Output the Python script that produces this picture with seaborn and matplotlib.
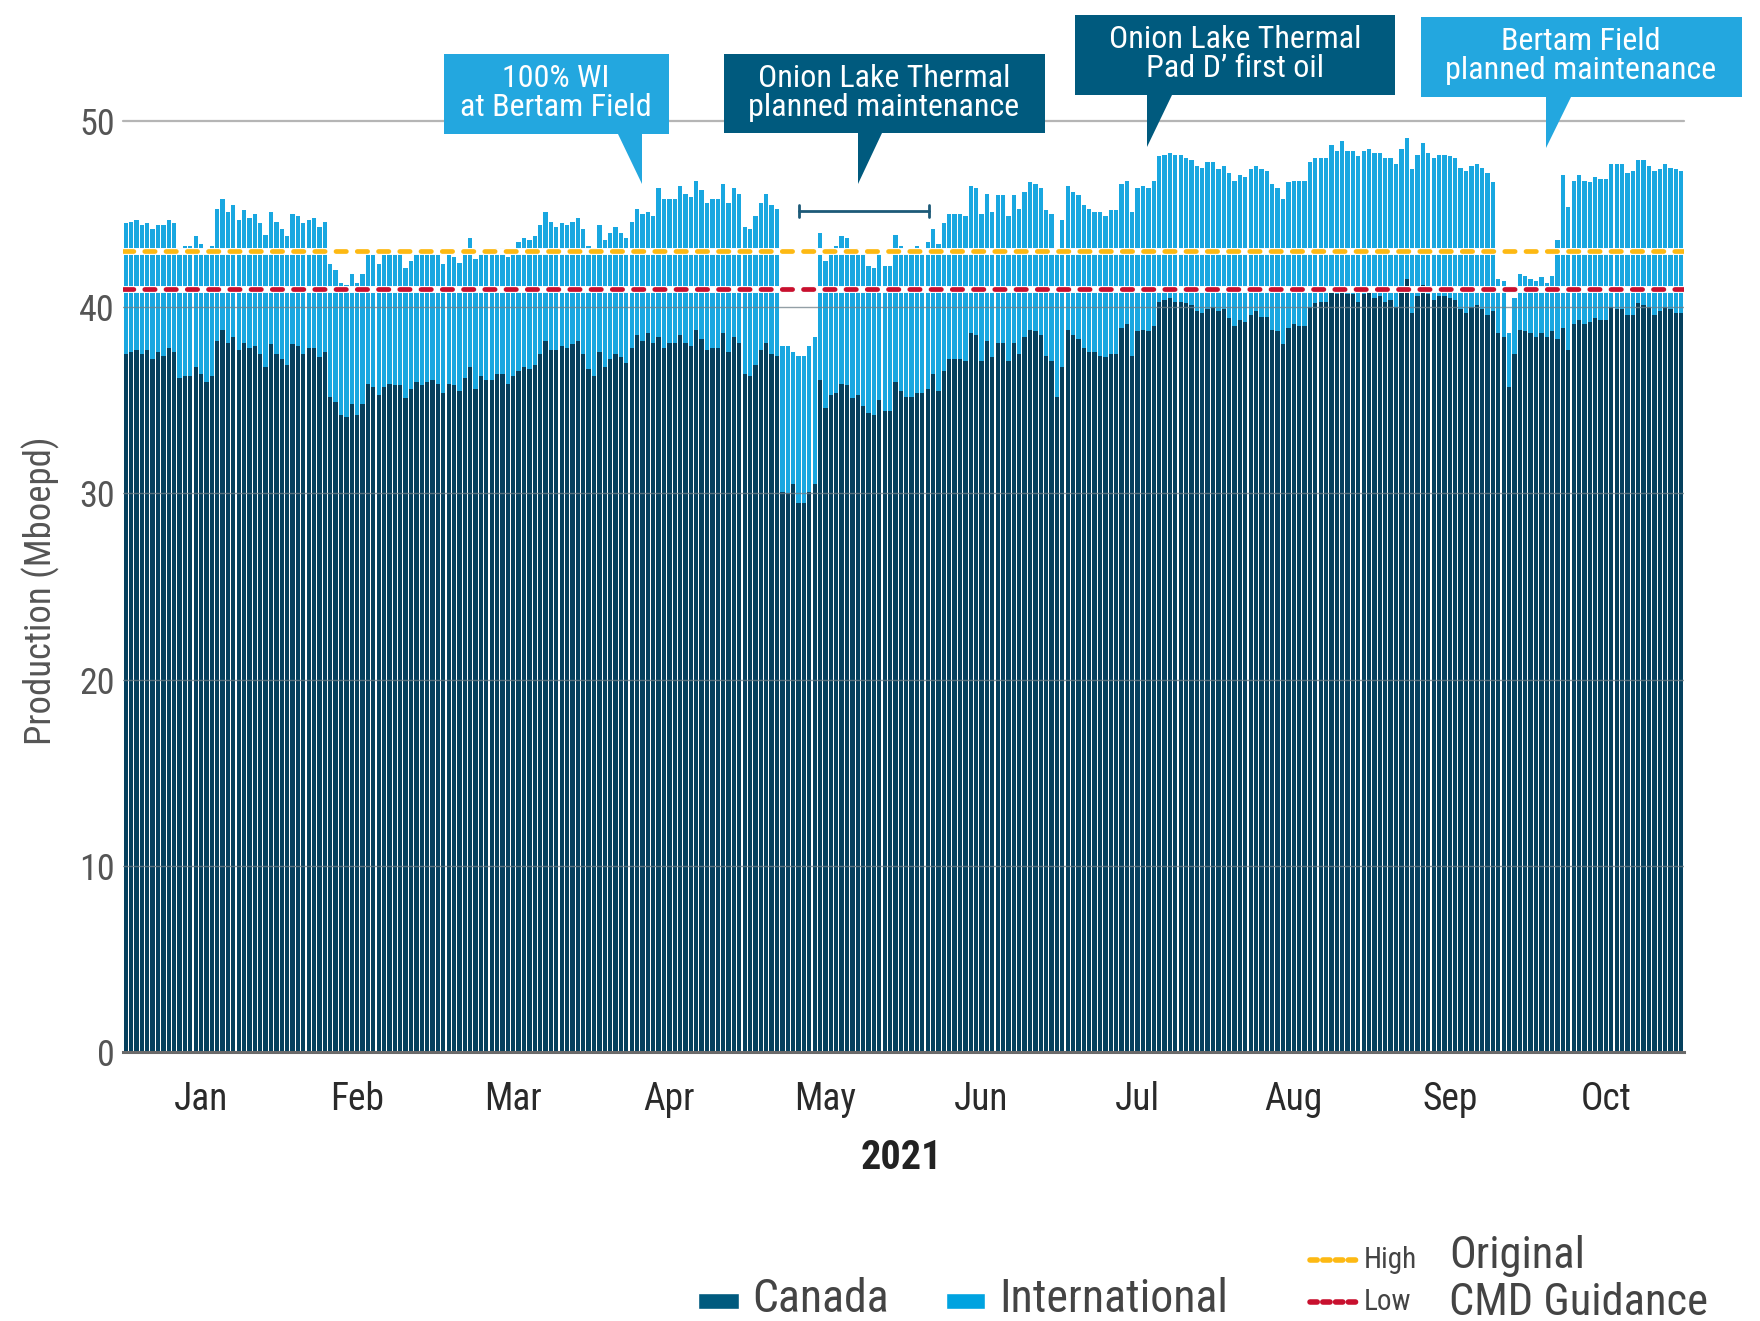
import numpy as np
import pandas as pd
import seaborn as sns
import matplotlib
matplotlib.use("Agg")
import matplotlib.pyplot as plt
import matplotlib.font_manager as fm
from matplotlib.patches import Polygon, Rectangle
from matplotlib.lines import Line2D

# ---------------- data ----------------
months = ["Jan", "Feb", "Mar", "Apr", "May", "Jun", "Jul", "Aug", "Sep", "Oct"]
year_label = "2021"
y_label = "Production (Mboepd)"
y_ticks = [0, 10, 20, 30, 40, 50]
guidance_high = 43.0
guidance_low = 41.0

canada = [
    37.5, 37.6, 37.7, 37.5, 37.7, 37.2, 37.6, 37.4, 37.8, 37.6,
    36.2, 36.3, 36.3, 36.8, 36.4, 36.0, 36.3, 38.2, 38.8, 38.1,
    38.4, 37.7, 38.1, 37.8, 37.9, 37.5, 36.8, 38.0, 37.5, 37.2,
    36.9, 38.0, 37.9, 37.5, 37.8, 37.8, 37.3, 37.6, 35.2, 34.9,
    34.2, 34.1, 34.8, 34.2, 34.8, 35.9, 35.7, 35.3, 35.7, 35.9,
    35.8, 35.8, 35.1, 35.6, 36.0, 35.8, 36.0, 36.1, 35.9, 35.4,
    35.9, 35.8, 35.5, 36.2, 36.8, 35.6, 36.3, 36.1, 36.1, 36.4,
    36.4, 35.9, 36.3, 36.6, 36.8, 36.7, 36.9, 37.5, 38.2, 37.7,
    37.7, 37.9, 37.8, 38.0, 38.2, 37.5, 36.7, 36.3, 37.6, 36.8,
    37.2, 37.5, 37.3, 37.0, 37.8, 38.5, 38.2, 38.6, 38.1, 38.4,
    37.8, 38.1, 38.1, 38.5, 38.1, 37.9, 38.8, 38.3, 37.7, 37.8,
    37.8, 38.6, 37.6, 38.4, 38.1, 36.4, 36.3, 36.9, 37.7, 38.1,
    37.5, 37.4, 30.1, 30.0, 30.5, 29.5, 29.5, 30.1, 30.5, 36.1,
    34.6, 35.3, 35.4, 35.9, 35.8, 35.1, 35.3, 34.7, 34.3, 34.2,
    35.0, 34.4, 34.4, 36.0, 35.5, 35.2, 35.2, 35.4, 35.4, 35.6,
    36.4, 35.5, 36.6, 37.2, 37.2, 37.2, 37.1, 38.6, 38.5, 37.1,
    38.2, 37.3, 38.1, 38.1, 37.1, 38.1, 37.5, 38.4, 38.8, 38.7,
    38.5, 37.4, 37.1, 35.2, 36.8, 38.8, 38.5, 38.3, 37.8, 37.6,
    37.6, 37.4, 37.3, 37.5, 37.5, 38.9, 39.1, 37.4, 38.7, 38.8,
    38.7, 39.0, 40.3, 40.4, 40.5, 40.3, 40.3, 40.2, 40.1, 39.8,
    39.7, 39.9, 40.0, 39.8, 39.9, 39.4, 39.0, 39.3, 39.2, 39.6,
    39.8, 39.5, 39.5, 38.8, 38.7, 38.0, 38.9, 39.1, 39.0, 39.0,
    40.0, 40.2, 40.3, 40.3, 40.8, 40.7, 41.1, 40.7, 40.7, 40.3,
    40.7, 40.8, 40.5, 40.6, 40.3, 40.4, 40.0, 40.8, 41.5, 39.7,
    40.6, 41.2, 40.7, 40.4, 40.6, 40.6, 40.5, 40.4, 39.9, 39.7,
    40.0, 40.1, 39.9, 39.6, 39.8, 38.6, 38.4, 35.7, 37.5, 38.8,
    38.7, 38.6, 38.4, 38.6, 38.4, 38.7, 38.3, 38.9, 37.7, 39.1,
    39.3, 39.1, 39.2, 39.4, 39.3, 39.3, 40.0, 39.9, 39.9, 39.6,
    39.6, 40.2, 40.1, 40.0, 39.6, 39.8, 40.0, 39.9, 39.7, 39.7,
]

total = [
    44.5, 44.6, 44.7, 44.4, 44.5, 44.2, 44.4, 44.4, 44.7, 44.5,
    43.2, 43.3, 43.3, 43.8, 43.4, 43.0, 43.3, 45.3, 45.8, 45.1,
    45.5, 44.7, 45.2, 44.8, 45.0, 44.5, 43.9, 45.1, 44.6, 44.2,
    43.8, 45.0, 44.9, 44.5, 44.7, 44.8, 44.3, 44.6, 42.3, 42.0,
    41.3, 41.2, 41.8, 41.3, 41.8, 42.9, 42.8, 42.3, 42.8, 42.9,
    42.9, 42.9, 42.1, 42.5, 42.9, 42.9, 42.9, 42.9, 42.9, 42.3,
    42.8, 42.7, 42.4, 42.9, 43.7, 42.6, 42.9, 42.9, 42.9, 43.2,
    43.2, 42.7, 42.9, 43.5, 43.7, 43.6, 43.8, 44.4, 45.1, 44.6,
    44.3, 44.5, 44.4, 44.6, 44.8, 44.2, 43.3, 43.2, 44.4, 43.6,
    44.0, 44.3, 44.0, 43.7, 44.6, 45.3, 45.0, 45.1, 44.9, 46.4,
    45.8, 45.8, 45.8, 46.5, 46.1, 45.9, 46.8, 46.3, 45.6, 45.8,
    45.8, 46.6, 45.6, 46.4, 46.1, 44.3, 44.2, 44.9, 45.6, 46.1,
    45.5, 45.3, 37.9, 37.9, 37.6, 37.4, 37.4, 37.9, 38.4, 44.0,
    42.5, 43.2, 43.3, 43.8, 43.7, 42.9, 43.2, 42.9, 42.2, 42.1,
    42.9, 42.2, 42.2, 43.9, 43.3, 42.9, 42.9, 43.3, 42.9, 43.5,
    44.2, 43.4, 44.5, 45.0, 45.0, 45.0, 44.9, 46.5, 46.4, 45.0,
    46.1, 45.1, 46.0, 46.0, 44.9, 46.0, 45.3, 46.2, 46.7, 46.6,
    46.4, 45.2, 45.0, 43.0, 44.7, 46.5, 46.2, 46.0, 45.5, 45.3,
    45.1, 45.1, 44.9, 45.2, 45.2, 46.6, 46.8, 45.1, 46.4, 46.5,
    46.4, 46.8, 48.1, 48.2, 48.3, 48.2, 48.2, 48.0, 47.9, 47.6,
    47.5, 47.8, 47.8, 47.4, 47.6, 47.2, 46.8, 47.1, 47.0, 47.4,
    47.6, 47.4, 47.3, 46.6, 46.4, 45.8, 46.7, 46.8, 46.8, 46.8,
    47.8, 48.0, 48.0, 48.0, 48.7, 48.4, 48.9, 48.4, 48.4, 48.1,
    48.4, 48.5, 48.3, 48.3, 48.0, 48.0, 47.7, 48.5, 49.1, 47.4,
    48.2, 48.8, 48.3, 48.0, 48.2, 48.2, 48.1, 48.0, 47.5, 47.3,
    47.6, 47.7, 47.5, 47.2, 46.7, 41.5, 41.4, 38.6, 40.5, 41.8,
    41.7, 41.5, 41.4, 41.6, 41.3, 41.7, 43.6, 47.1, 45.4, 46.8,
    47.1, 46.8, 46.7, 47.0, 46.9, 46.9, 47.7, 47.7, 47.7, 47.2,
    47.3, 47.9, 47.9, 47.6, 47.3, 47.4, 47.7, 47.5, 47.4, 47.3,
]

callout_texts = [
    "100% WI\nat Bertam Field",
    "Onion Lake Thermal\nplanned maintenance",
    "Onion Lake Thermal\nPad D\u2019 first oil",
    "Bertam Field\nplanned maintenance",
]
legend_series = ["Canada", "International"]
legend_lines = ["High", "Low"]
legend_title = ["Original", "CMD Guidance"]

# ---------------- style ----------------
sns.set_style("white")
avail = {f.name for f in fm.fontManager.ttflist}
FONT = "DejaVu Sans"
STRETCH = "normal"
for cand in ["Liberation Sans Narrow", "Roboto Condensed", "DejaVu Sans Condensed"]:
    if cand in avail:
        FONT = cand
        break
else:
    STRETCH = "condensed"
plt.rcParams["font.family"] = [FONT, "DejaVu Sans"]
plt.rcParams["font.stretch"] = STRETCH

DARK = "#05405E"
LIGHT = "#19A7E0"
DARK_LEG = "#005A7E"
LIGHT_LEG = "#00A3E0"
BOX_LIGHT = "#23A7DF"
BOX_DARK = "#005A7E"
YELLOW = "#FDB913"
RED = "#C8102E"

W, H = 1760, 1321
fig = plt.figure(figsize=(W / 100, H / 100), dpi=100)
fig.patch.set_facecolor("white")

def fx(x):
    return x / W

def fy(y):
    return 1 - y / H

ax = fig.add_axes([fx(123), fy(1052), fx(1684) - fx(123), fy(121) - fy(1052)])

df = pd.DataFrame({"day": np.arange(len(canada)), "canada": canada, "total": total})
sns.barplot(data=df, x="day", y="total", color=LIGHT, saturation=1, width=0.8,
            linewidth=0, errorbar=None, ax=ax, zorder=2)
sns.barplot(data=df, x="day", y="canada", color=DARK, saturation=1, width=0.8,
            linewidth=0, errorbar=None, ax=ax, zorder=3)

n = len(canada)
per = n // len(months)
ax.set_xlim(-0.5, n - 0.5)
ax.set_ylim(0, 50)

# grid lines
for yv in y_ticks[1:-1]:
    ax.axhline(yv, color="#6f7f88", lw=1.0, alpha=0.75, zorder=4)
ax.axhline(50, color="#b5b5b5", lw=1.6, zorder=1, clip_on=False)

# guidance lines
for yv, col in [(guidance_high, YELLOW), (guidance_low, RED)]:
    ax.axhline(yv, color="white", lw=5.0, zorder=5)
    ax.axhline(yv, color=col, lw=3.4, zorder=6, dashes=(2.2, 2.3),
               dash_capstyle="round")

# axes styling
for s in ["top", "right", "left"]:
    ax.spines[s].set_visible(False)
ax.spines["bottom"].set_color("#6a6a6a")
ax.spines["bottom"].set_linewidth(2.2)
ax.spines["bottom"].set_zorder(7)

ax.set_yticks(y_ticks)
ax.set_yticklabels([str(v) for v in y_ticks], fontsize=26, color="#555555")
ax.tick_params(axis="y", length=0, pad=6)

centers = [per * i + (per - 1) / 2 for i in range(len(months))]
bounds = [per * i - 0.5 for i in range(len(months) + 1)]
ax.set_xticks(centers)
ax.set_xticklabels(months, fontsize=27, color="#2a2a2a")
ax.set_xticks(bounds, minor=True)
ax.tick_params(axis="x", which="major", length=0, pad=21)
ax.tick_params(axis="x", which="minor", length=13, width=1.2, color="#555555")
ax.set_xlabel("")
ax.set_ylabel("")

fig.text(fx(41), fy(591), y_label, rotation=90, ha="center", va="center",
         fontsize=26.5, color="#555555")
fig.text(fx(901), fy(1158), year_label, ha="center", va="center",
         fontsize=29, fontweight="bold", color="#222222")

# bracket for maintenance window
bx0, bx1, by = 799, 929, 211
fig.add_artist(Line2D([fx(bx0), fx(bx1)], [fy(by), fy(by)], color="#1d5a78", lw=2,
                      transform=fig.transFigure))
for bx in (bx0, bx1):
    fig.add_artist(Line2D([fx(bx), fx(bx)], [fy(by - 6), fy(by + 6)], color="#1d5a78",
                          lw=2, transform=fig.transFigure))

# callouts
shapes = [
    ([(444, 54), (669, 54), (669, 134), (642, 134), (642, 184), (618, 134), (444, 134)], BOX_LIGHT, (556, 93)),
    ([(724, 54), (1045, 54), (1045, 133), (882, 133), (858, 184), (858, 133), (724, 133)], BOX_DARK, (884, 93)),
    ([(1075, 15), (1395, 15), (1395, 95), (1172, 95), (1147, 147), (1147, 95), (1075, 95)], BOX_DARK, (1235, 54)),
    ([(1421, 17), (1742, 17), (1742, 97), (1571, 97), (1546, 148), (1546, 97), (1421, 97)], BOX_LIGHT, (1581, 56)),
]
for (pts, col, (tx, ty)), txt in zip(shapes, callout_texts):
    poly = Polygon([(fx(x), fy(y)) for x, y in pts], closed=True, facecolor=col,
                   edgecolor="none", transform=fig.transFigure, zorder=10)
    fig.add_artist(poly)
    fig.text(fx(tx), fy(ty), txt, ha="center", va="center", fontsize=23,
             color="white", linespacing=1.0, zorder=11)

# legend
fig.add_artist(Rectangle((fx(698), fy(1309)), fx(739) - fx(698), fy(1293) - fy(1309),
                         facecolor=DARK_LEG, transform=fig.transFigure))
fig.text(fx(752), fy(1299), legend_series[0], ha="left", va="center", fontsize=33,
         color="#444444")
fig.add_artist(Rectangle((fx(946), fy(1309)), fx(985) - fx(946), fy(1293) - fy(1309),
                         facecolor=LIGHT_LEG, transform=fig.transFigure))
fig.text(fx(999), fy(1299), legend_series[1], ha="left", va="center", fontsize=33,
         color="#444444")
for (lab, col, yy) in [(legend_lines[0], YELLOW, 1260), (legend_lines[1], RED, 1302)]:
    fig.add_artist(Line2D([fx(1310), fx(1356)], [fy(yy), fy(yy)], color=col, lw=4,
                          dashes=(1.3, 1.0), dash_capstyle="round",
                          transform=fig.transFigure))
    fig.text(fx(1364), fy(yy), lab, ha="left", va="center", fontsize=21, color="#444444")
fig.text(fx(1449), fy(1256), legend_title[0], ha="left", va="center", fontsize=32,
         color="#444444")
fig.text(fx(1449), fy(1303), legend_title[1], ha="left", va="center", fontsize=32,
         color="#444444")

fig.savefig("out.png", dpi=100, facecolor="white")
